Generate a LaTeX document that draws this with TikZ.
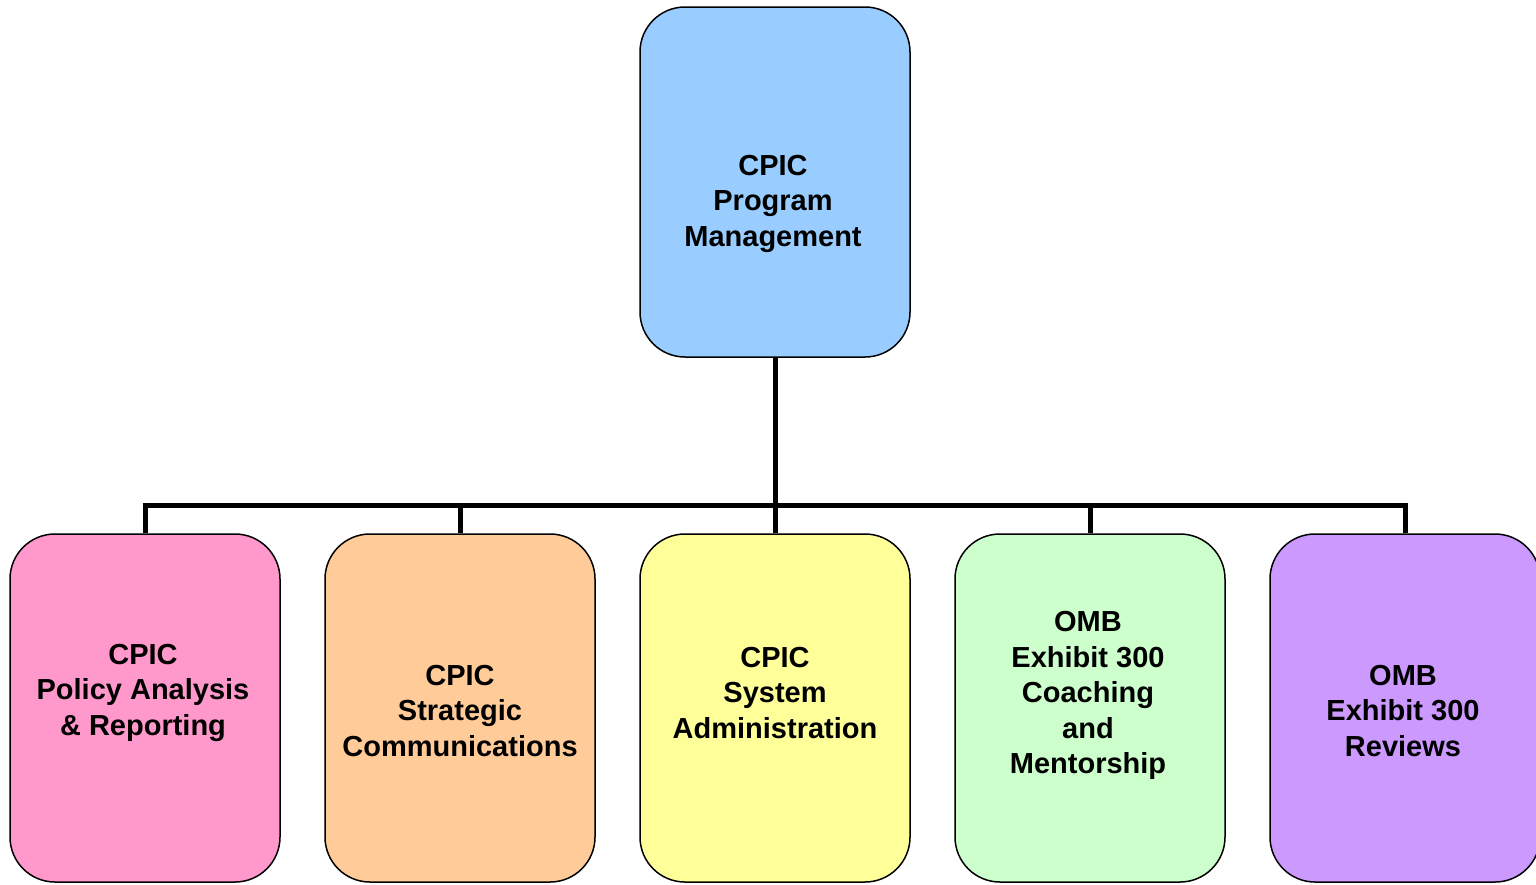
\documentclass[tikz,border=0pt]{standalone}
\usepackage{fontspec}
\setmainfont{Liberation Sans}
\definecolor{cblue}{HTML}{99CCFF}
\definecolor{cpink}{HTML}{FF99CC}
\definecolor{corange}{HTML}{FFCC99}
\definecolor{cyellow}{HTML}{FFFF99}
\definecolor{cgreen}{HTML}{CCFFCC}
\definecolor{cpurple}{HTML}{CC99FF}
\begin{document}
\begin{tikzpicture}[x=1pt,y=-1pt,
  box/.style={draw=black, line width=1.5pt, rounded corners=45pt, minimum width=270pt, inner sep=0pt},
  topbox/.style={box, minimum height=350pt},
  subbox/.style={box, minimum height=348pt},
  lbl/.style={align=center, inner sep=0pt, font=\bfseries\fontsize{29}{35.5}\selectfont},
  conn/.style={line width=5pt, line join=miter}]
\useasboundingbox (0,0) rectangle (1536,884);
\clip (0,0) rectangle (1536,884);
\node[topbox, fill=cblue] (top) at (775,182) {};
\node[subbox, fill=cpink] (c1) at (145,708) {};
\node[subbox, fill=corange] (c2) at (460,708) {};
\node[subbox, fill=cyellow] (c3) at (775,708) {};
\node[subbox, fill=cgreen] (c4) at (1090,708) {};
\node[subbox, fill=cpurple] (c5) at (1405,708) {};
\coordinate (j) at (775,505);
\draw[conn] (top.south) -- (j);
\draw[conn] (c1.north) -- (c1.north |- j) -- (c5.north |- j) -- (c5.north);
\draw[conn] (c2.north |- j) -- (c2.north);
\draw[conn] (c3.north |- j) -- (c3.north);
\draw[conn] (c4.north |- j) -- (c4.north);
\node[lbl] (t0) at (773,203.6) {CPIC\\Program\\Management};
\node[lbl] (t1) at (143,692.7) {CPIC\\Policy Analysis\\\& Reporting};
\node[lbl] (t2) at (460,710.6) {CPIC\\Strategic\\Communications};
\node[lbl] (t3) at (775,692.6) {CPIC\\System\\Administration};
\node[lbl] (t4) at (1088,695.6) {OMB\\Exhibit 300\\Coaching\\and\\Mentorship};
\node[lbl] (t5) at (1403,710.6) {OMB\\Exhibit 300\\Reviews};
\end{tikzpicture}
\end{document}
